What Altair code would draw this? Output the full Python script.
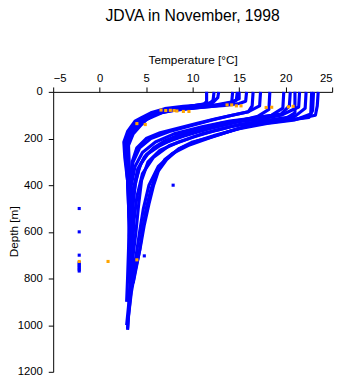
import altair as alt
import pandas as pd

# ---- profile data: (temperature degC, depth m) key points ----
W1 = [(23.5,0),(23.4,60),(23.2,100),(21,118),(18,125),(16,135),(14,150),(11,180),(8.5,215),(6.5,250),(5.2,300),(4.5,380),(4.2,480),(3.9,600),(3.6,700),(3.4,800)]
W2 = [(23.0,0),(22.9,80),(22.5,110),(19,128),(16.5,142),(14.5,162),(12,195),(9.5,230),(7.8,265),(6.3,320),(5.3,400),(4.7,500),(4.3,600),(4.0,680),(3.6,780),(3.3,880),(3.1,960),(3.0,1020)]
W3 = [(22.2,0),(22.1,70),(21,105),(18,122),(15,140),(12.5,165),(10,195),(7.5,230),(5.8,280),(4.6,350),(4.0,450),(3.7,550),(3.5,680),(3.3,800),(3.1,920),(2.9,1000)]
W4 = [(21.5,0),(21.4,65),(19.5,100),(17.5,115),(15,128),(12,155),(9,190),(6.5,225),(5,270),(4.1,330),(3.6,420),(3.4,520),(3.3,640),(3.2,760)]
W5 = [(20.5,0),(20.4,60),(19.5,95),(17,110),(14,125),(11,150),(8,180),(6,215),(4.6,260),(3.8,320),(3.4,400),(3.3,500),(3.3,620),(3.2,720)]
W6 = [(19.8,0),(19.7,70),(18.5,100),(16,115),(13,135),(10.5,160),(8.5,185),(7,210),(5.8,240),(4.8,280),(4.2,330),(3.8,400),(3.6,480),(3.5,580),(3.4,700),(3.3,820)]
W7 = [(18.3,0),(18.2,75),(17,105),(15,125),(12.5,150),(10,175),(8,200),(6.5,230),(5.2,265),(4.4,310),(3.9,380),(3.6,460),(3.5,560),(3.4,650)]
W8 = [(17.3,0),(17.2,60),(16,85),(14,102),(12,122),(9.5,148),(7.5,170),(5.5,200),(4.3,240),(3.6,300),(3.3,370),(3.2,450),(3.2,560),(3.1,680),(3.0,800),(2.9,900)]
W9 = [(21,0),(21,90),(20,115),(17.5,132),(15.5,150),(13.5,175),(11.5,200),(10,215),(8.5,245),(7.2,290),(6.3,340),(5.8,400),(5.3,480),(4.8,570),(4.4,660),(4.0,740),(3.6,820)]
W10 = [(22.8,0),(22.7,95),(21,120),(18,135),(15,158),(12.5,185),(10.4,212),(8.5,245),(7,290),(6.1,350),(5.5,420),(5.0,500),(4.6,590),(4.3,680),(3.8,770),(3.4,860),(3.1,960),(3.0,1015)]
M1 = [(15.8,0),(15.7,40),(15,50),(13.5,58),(11,66),(8.5,76),(6.8,84),(5.2,105),(4.2,130),(3.4,170),(2.9,220),(2.9,300),(3.1,400),(3.2,520),(3.2,620)]
M2 = [(15.0,0),(15.0,30),(14,45),(12,60),(9.5,70),(7.5,78),(6.5,85),(5,105),(4.0,125),(3.3,160),(2.8,210),(2.8,280),(3.0,380),(3.1,480),(3.2,600),(3.2,720)]
M3 = [(14.3,0),(14.2,45),(13,55),(11,62),(8.5,75),(6.8,88),(5.2,115),(4.3,135),(3.5,175),(2.7,235),(2.9,320),(3.1,420),(3.2,540)]
M4 = [(16.5,0),(16.4,60),(16,85),(14.5,98),(12.5,115),(10.5,135),(8.5,155),(6.5,175),(5,200),(4,240),(3.5,300),(3.3,420),(3.2,520)]
B1 = [(14.8,0),(14.7,35),(14,52),(12,62),(9.5,72),(7.5,82),(6,95),(5,120),(4.5,140),(3.6,180),(3.1,230),(3.2,330),(3.3,450),(3.3,560)]
C1 = [(11.5,0),(11.5,40),(11.2,55),(9,62),(7,72),(5.5,90),(4.5,110),(3.8,125),(3.0,170),(2.6,215),(2.7,280),(3.0,380),(3.1,480),(3.2,580),(3.2,700),(3.1,800)]
C2 = [(12.3,0),(12.2,35),(11.8,50),(10,60),(7.8,75),(6,95),(4.8,118),(4.2,135),(3.5,165),(3.0,210),(2.9,260),(3.0,340),(3.1,440),(3.2,560),(3.2,660)]
C3 = [(12.8,0),(12.7,25),(12.2,45),(9.8,62),(7,82),(5.5,105),(4.5,130),(3.6,150),(3.1,190),(2.8,240),(3.0,300)]

PROFILES = {"W1": W1, "W2": W2, "W3": W3, "W4": W4, "W5": W5, "W6": W6, "W7": W7,
            "W8": W8, "W9": W9, "W10": W10, "M1": M1, "M2": M2, "M3": M3, "M4": M4,
            "B1": B1, "C1": C1, "C2": C2, "C3": C3}

# isolated blue samples
BLUE_T = [7.9, 4.8, -2.2, -2.2, -2.2, -2.2, -2.2, -2.2, -2.2, -2.2, -2.2, -2.2]
BLUE_D = [400, 703, 500, 600, 700, 732, 738, 744, 750, 756, 762, 768]

# flagged (orange) samples
ORANGE_T = [6.6, 7.1, 7.6, 8.0, 8.3, 9.0, 9.6, 4.0, 4.9, 13.7, 14.2, 14.7, 15.2, 17.9, 18.5, 20.3, 20.8, -2.2, 0.9, 4.0]
ORANGE_D = [78, 80, 79, 80, 82, 84, 84, 136, 140, 56, 56, 60, 60, 67, 66, 64, 62, 727, 727, 720]

TITLE = "JDVA in November, 1998"
X_TITLE = "Temperature [°C]"
Y_TITLE = "Depth [m]"
X_TICKS = [-5, 0, 5, 10, 15, 20, 25]
Y_TICKS = [0, 200, 400, 600, 800, 1000, 1200]

rows = []
for name, pts in PROFILES.items():
    for i, (t, d) in enumerate(pts):
        rows.append({"profile": name, "order": i, "temp": t, "depth": d})
prof_df = pd.DataFrame(rows)
blue_df = pd.DataFrame({"temp": BLUE_T, "depth": BLUE_D})
orange_df = pd.DataFrame({"temp": ORANGE_T, "depth": ORANGE_D})

FONT = "Liberation Sans"
x_scale = alt.Scale(domain=[-5, 25], nice=False, zero=False)
y_scale = alt.Scale(domain=[0, 1200], reverse=True, nice=False)

x_enc = alt.X("temp:Q", scale=x_scale,
              axis=alt.Axis(orient="top", values=X_TICKS, title=X_TITLE, grid=False,
                            tickSize=5, labelPadding=4, titlePadding=6,
                            labelFontSize=11.5, titleFontSize=12, titleFontWeight="normal",
                            labelFont=FONT, titleFont=FONT, domainColor="black",
                            tickColor="black", labelColor="black", titleColor="black"))
y_enc = alt.Y("depth:Q", scale=y_scale,
              axis=alt.Axis(values=Y_TICKS, title=Y_TITLE, grid=False, format="d",
                            tickSize=5, labelPadding=6,
                            titleX=-40, titleY=142, titleBaseline="middle", titleAngle=270,
                            labelFontSize=11.5, titleFontSize=12, titleFontWeight="normal",
                            labelFont=FONT, titleFont=FONT, domainColor="black",
                            tickColor="black", labelColor="black", titleColor="black"))

lines = alt.Chart(prof_df).mark_line(color="#0000ff", strokeWidth=3.2, strokeJoin="round").encode(
    x=x_enc, y=y_enc, detail="profile:N", order="order:Q")
blue_pts = alt.Chart(blue_df).mark_square(color="#0000ff", size=10, opacity=1).encode(
    x="temp:Q", y="depth:Q")
orange_pts = alt.Chart(orange_df).mark_square(color="#ffa500", size=10, opacity=1).encode(
    x="temp:Q", y="depth:Q")

chart = alt.layer(lines, blue_pts, orange_pts).properties(
    width=284, height=285,
    title=alt.TitleParams(TITLE, font=FONT, fontSize=16, fontWeight="normal", color="black",
                          anchor="middle", offset=30),
    autosize=alt.AutoSizeParams(type="none"),
    padding={"left": 46, "top": 82, "right": 8, "bottom": 8},
).configure_view(stroke=None)

chart.save("out.html", embed_options={"renderer": "svg", "actions": False})
